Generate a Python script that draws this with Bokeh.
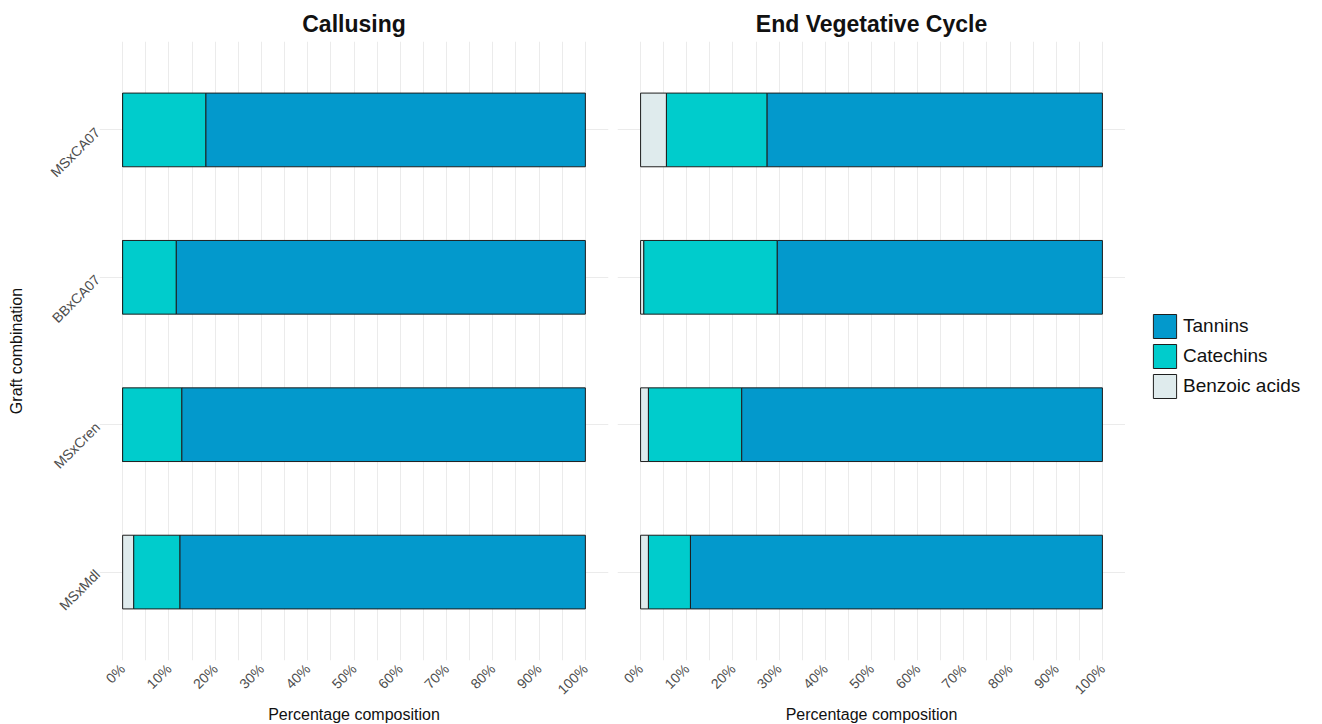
from bokeh.plotting import figure
from bokeh.models import (FixedTicker, PrintfTickFormatter, Legend, LegendItem,
                          FactorRange, Range1d, ColumnDataSource)
from bokeh.layouts import row
from bokeh.embed import file_html
from bokeh.resources import INLINE

# ---------------- data ----------------
categories = ["MSxCA07", "BBxCA07", "MSxCren", "MSxMdl"]
components = ["Benzoic acids", "Catechins", "Tannins"]

callusing_benzoic = [0.0, 0.0, 0.0, 2.4]
callusing_catechins = [18.0, 11.6, 12.8, 10.0]
callusing_tannins = [82.0, 88.4, 87.2, 87.6]

endveg_benzoic = [5.6, 0.7, 1.7, 1.7]
endveg_catechins = [21.8, 28.9, 20.2, 9.1]
endveg_tannins = [72.6, 70.4, 78.1, 89.2]

panel_titles = ["Callusing", "End Vegetative Cycle"]
x_ticks = [0, 10, 20, 30, 40, 50, 60, 70, 80, 90, 100]
x_minor = [-5, 5, 15, 25, 35, 45, 55, 65, 75, 85, 95, 105]

colors = ["#DFEBED", "#00CCCC", "#0399CC"]
FONT = "Liberation Sans"
FRAME_H = 619
TOP = 41

y_range = FactorRange(factors=list(reversed(categories)), range_padding=0.05)

src1 = ColumnDataSource(dict(cat=categories, benz=callusing_benzoic,
                             catech=callusing_catechins, tan=callusing_tannins))
src2 = ColumnDataSource(dict(cat=categories, benz=endveg_benzoic,
                             catech=endveg_catechins, tan=endveg_tannins))


def make_panel(title, src, fw, mbl, mbr, show_y):
    p = figure(frame_width=fw, frame_height=FRAME_H, y_range=y_range,
               x_range=Range1d(-5, 105),
               output_backend="svg", toolbar_location=None, title=title,
               min_border_left=mbl, min_border_right=mbr, min_border_top=TOP,
               min_border_bottom=0)
    rs = p.hbar_stack(["benz", "catech", "tan"], y="cat", height=0.5, color=colors,
                      line_color="#1E1E1E", line_width=1, source=src)
    p.outline_line_color = None
    p.title.align = "center"
    p.title.text_font = FONT
    p.title.text_font_size = "23px"
    p.title.text_font_style = "bold"
    p.title.text_color = "#111111"
    p.title.standoff = 10

    p.xaxis.ticker = FixedTicker(ticks=x_ticks, minor_ticks=x_minor)
    p.xaxis.formatter = PrintfTickFormatter(format="%d%%")
    p.xaxis.major_label_orientation = 0.785398
    p.xaxis.axis_label = "Percentage composition"
    for ax in [p.xaxis, p.yaxis]:
        ax.axis_line_color = None
        ax.major_tick_line_color = None
        ax.minor_tick_line_color = None
        ax.major_tick_out = 0
        ax.major_tick_in = 0
        ax.major_label_text_font = FONT
        ax.major_label_text_font_size = "14px"
        ax.major_label_text_color = "#4D4D4D"
        ax.axis_label_text_font = FONT
        ax.axis_label_text_font_size = "16px"
        ax.axis_label_text_font_style = "normal"
        ax.axis_label_text_color = "#111111"
    p.xaxis.major_label_standoff = 2
    p.xaxis.axis_label_standoff = 0
    p.xgrid.grid_line_color = "#EBEBEB"
    p.xgrid.minor_grid_line_color = "#EBEBEB"
    p.ygrid.grid_line_color = "#EBEBEB"
    if show_y:
        p.yaxis.axis_label = "Graft combination"
        p.yaxis.major_label_orientation = 0.785398
        p.yaxis.major_label_standoff = 2
        p.yaxis.axis_label_standoff = 14
    else:
        p.yaxis.visible = False
    return p, rs


p1, r1 = make_panel(panel_titles[0], src1, 509, 99, 5, True)
p2, r2 = make_panel(panel_titles[1], src2, 508, 4, 0, False)

# legend panel: hidden copies of the stacked bars provide the swatches
pl = figure(width=180, height=718, x_range=Range1d(-5, 105), y_range=y_range,
            output_backend="svg", toolbar_location=None,
            x_axis_location=None, y_axis_location=None,
            min_border_left=0, min_border_right=0, min_border_top=0,
            min_border_bottom=0)
pl.grid.visible = False
pl.outline_line_color = None
leg_r = pl.hbar_stack(["benz", "catech", "tan"], y="cat", height=0.5, color=colors,
                      line_color="#1E1E1E", line_width=1, source=src2, visible=False)

legend = Legend(items=[LegendItem(label=components[2], renderers=[leg_r[2]]),
                       LegendItem(label=components[1], renderers=[leg_r[1]]),
                       LegendItem(label=components[0], renderers=[leg_r[0]])],
                location=(25, 251), glyph_width=29, glyph_height=30, spacing=0,
                padding=0, margin=0, label_standoff=4, label_height=30,
                label_text_font=FONT, label_text_font_size="19px",
                label_text_color="#111111", border_line_color=None,
                background_fill_alpha=0, inactive_fill_alpha=0)
pl.add_layout(legend)

layout = row(p1, p2, pl)
open("out.html", "w").write(file_html(layout, INLINE))
